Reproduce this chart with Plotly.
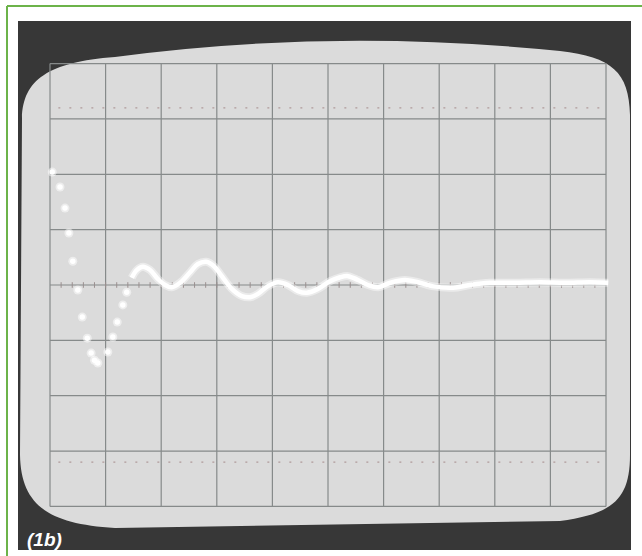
import plotly.graph_objects as go

# ---- data (in graticule divisions) ----
dot_x = [0.04, 0.18, 0.27, 0.34, 0.41, 0.50, 0.58, 0.67, 0.74, 0.80, 0.86, 1.04, 1.13, 1.21, 1.31, 1.38]
dot_y = [2.04, 1.77, 1.39, 0.94, 0.43, -0.09, -0.58, -0.96, -1.23, -1.36, -1.41, -1.21, -0.94, -0.67, -0.36, -0.13]

curve_x = [1.47, 1.56, 1.67, 1.80, 1.94, 2.07, 2.19, 2.34, 2.52, 2.66, 2.81, 2.95, 3.09, 3.27, 3.45,
           3.60, 3.74, 3.92, 4.10, 4.28, 4.46, 4.62, 4.82, 5.04, 5.22, 5.36, 5.54, 5.72, 5.90, 6.12,
           6.38, 6.62, 6.87, 7.25, 7.55, 7.91, 8.36, 8.81, 9.26, 9.71, 10.04]
curve_y = [0.13, 0.27, 0.33, 0.27, 0.11, 0.00, -0.04, 0.04, 0.23, 0.38, 0.42, 0.34, 0.16, -0.07, -0.20,
           -0.22, -0.16, -0.02, 0.05, 0.00, -0.11, -0.14, -0.07, 0.07, 0.14, 0.16, 0.09, 0.00, -0.04, 0.04,
           0.09, 0.05, -0.02, -0.05, 0.00, 0.04, 0.04, 0.05, 0.04, 0.05, 0.04]

h_divs = list(range(0, 11))
v_divs = list(range(-4, 5))
marker_levels = [3.2, -3.2]
label_text = "(1b)"

# ---- geometry helpers (pixel -> data) ----
W, H = 642, 556
X0, XD = 50.0, 55.6
Y0, YD = 285.0, 55.35


def dx(px):
    return (px - X0) / XD


def dy(py):
    return (Y0 - py) / YD


def P(px, py):
    return f"{dx(px):.4f},{dy(py):.4f}"


GRID = "#868a8a"
SCREEN = "#dbdbdb"
DARK = "#373737"
GREEN = "#6cb34a"

shapes = []
# dark bezel
shapes.append(dict(type="rect", x0=dx(18), x1=dx(631), y0=dy(21), y1=dy(550),
                   fillcolor=DARK, line=dict(width=0), layer="below"))
# screen face
path = ("M " + P(22, 118)
        + " C " + P(23, 80) + " " + P(48, 62) + " " + P(115, 57)
        + " Q " + P(330, 28) + " " + P(560, 51)
        + " C " + P(612, 57) + " " + P(629, 72) + " " + P(630, 115)
        + " L " + P(630, 455)
        + " C " + P(630, 500) + " " + P(612, 514) + " " + P(560, 521)
        + " L " + P(115, 528)
        + " C " + P(48, 524) + " " + P(21, 505) + " " + P(20, 455)
        + " Z")
shapes.append(dict(type="path", path=path, fillcolor=SCREEN, line=dict(width=0), layer="below"))

# graticule
for xv in h_divs:
    shapes.append(dict(type="line", x0=xv, x1=xv, y0=v_divs[0], y1=v_divs[-1],
                       line=dict(color=GRID, width=1.2), layer="below"))
for yv in v_divs:
    shapes.append(dict(type="line", x0=h_divs[0], x1=h_divs[-1], y0=yv, y1=yv,
                       line=dict(color=GRID, width=1.2), layer="below"))
for lv in marker_levels:
    shapes.append(dict(type="line", x0=h_divs[0] + 0.15, x1=h_divs[-1] - 0.1, y0=lv, y1=lv,
                       line=dict(color="#b09a9a", width=1.3, dash="2px,9px"), layer="below"))

# page border lines (green)
shapes.append(dict(type="line", x0=dx(7), x1=dx(642), y0=dy(6), y1=dy(6),
                   line=dict(color=GREEN, width=2), layer="below"))
shapes.append(dict(type="line", x0=dx(7), x1=dx(7), y0=dy(6), y1=dy(556),
                   line=dict(color=GREEN, width=2), layer="below"))

fig = go.Figure()

# minor ticks on the horizontal centre line
tick_x = [i / 5 for i in range(1, 50)]
fig.add_trace(go.Scatter(x=tick_x, y=[0] * len(tick_x), mode="markers",
                         marker=dict(symbol="line-ns", size=4, line=dict(width=1, color="#9a8f8f")),
                         hoverinfo="skip", showlegend=False))

# trace glow + trace
fig.add_trace(go.Scatter(x=curve_x, y=curve_y, mode="lines", line=dict(color="rgba(255,255,255,0.45)", width=8, shape="spline"),
                         hoverinfo="skip", showlegend=False))
fig.add_trace(go.Scatter(x=curve_x, y=curve_y, mode="lines", line=dict(color="#ffffff", width=4.5, shape="spline"),
                         showlegend=False))
fig.add_trace(go.Scatter(x=dot_x, y=dot_y, mode="markers",
                         marker=dict(color="rgba(255,255,255,0.5)", size=9, line=dict(width=0)),
                         hoverinfo="skip", showlegend=False))
fig.add_trace(go.Scatter(x=dot_x, y=dot_y, mode="markers",
                         marker=dict(color="#ffffff", size=5.5, line=dict(width=0)),
                         showlegend=False))

fig.update_layout(
    width=W, height=H,
    margin=dict(l=0, r=0, t=0, b=0),
    paper_bgcolor="#ffffff", plot_bgcolor="#ffffff",
    shapes=shapes,
    xaxis=dict(range=[dx(0), dx(W)], visible=False, fixedrange=True),
    yaxis=dict(range=[dy(H), dy(0)], visible=False, fixedrange=True),
    annotations=[dict(x=dx(25), y=dy(539), xref="x", yref="y", text="<b><i>" + label_text + "</i></b>",
                      showarrow=False, xanchor="left", yanchor="middle",
                      font=dict(family="Liberation Sans, Arial, sans-serif", size=19, color="#ffffff"))],
)

fig.write_html("out.html", config={"displayModeBar": False},
               post_script="document.body.style.margin='0';")
